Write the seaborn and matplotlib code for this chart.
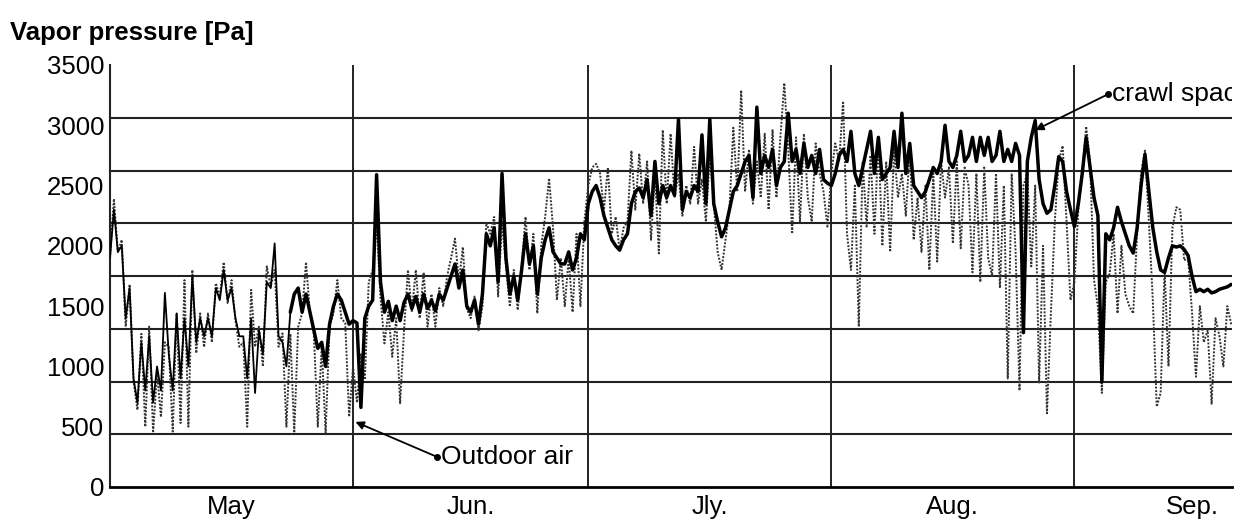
import numpy as np
import pandas as pd
import matplotlib
matplotlib.use("Agg")
import matplotlib.pyplot as plt
from matplotlib.ticker import FixedLocator, MultipleLocator
import seaborn as sns

# Half-day readings from 1 May (day 0) to about 20 Sep (day 143), vapor pressure in Pa
outdoor_air = [
    # May
    1900, 2390, 1950, 2050, 1330, 1680, 880, 640, 1270, 500,
    1330, 450, 950, 580, 1200, 1160, 460, 1440, 530, 1716,
    500, 1800, 1110, 1440, 1160, 1440, 1200, 1690, 1578, 1865,
    1525, 1716, 1380, 1163, 1200, 500, 1635, 1163, 1329, 1000,
    1830, 1660, 1800, 1163, 1274, 500, 1270, 450, 1329, 1440,
    1865, 1440, 1270, 500, 1163, 450, 1329, 1440,
    # late May - June
    1716, 1400, 1360, 583, 1000, 700, 1100, 890, 1700, 1800,
    2190, 1570, 1191, 1450, 1080, 1400, 694, 1300, 1800, 1450,
    1800, 1400, 1780, 1330, 1600, 1330, 1650, 1500, 1750, 1900,
    2060, 1700, 1990, 1480, 1400, 1580, 1300, 1500, 2190, 2100,
    2240, 1580, 2200, 1826, 1495, 1800, 1467, 1830, 2240, 1800,
    2100, 1440, 2000, 2240, 2560, 2150,
    # late June - July
    1550, 1900, 1500, 1900, 1450, 2100, 1500, 2200, 2500, 2650,
    2680, 2600, 2300, 2650, 2100, 2241, 1960, 2150, 2200, 2790,
    2300, 2766, 2350, 2700, 2050, 2600, 1937, 2960, 2350, 2930,
    2400, 2600, 2250, 2500, 2350, 2821, 2350, 2550, 2200, 2750,
    2350, 1950, 1800, 2050, 2300, 2980, 2450, 3290, 2450, 2800,
    2350, 2700, 2400, 2930, 2300, 2960, 2400, 2900, 3350,
    # late July - August
    2800, 2100, 2900, 2200, 2930, 2400, 2200, 2850, 2600, 2450,
    2160, 2600, 2850, 2700, 3200, 2100, 1800, 2500, 1330, 2700,
    2160, 2750, 2100, 2900, 2000, 2700, 1950, 2800, 2400, 2600,
    2250, 2800, 2050, 2400, 1950, 2500, 1800, 2600, 1870, 2700,
    2400, 2650, 2020, 2700, 1980, 2650, 2500, 1780, 2600, 1700,
    2650, 1900, 1750, 2600, 1650, 2500,
    # late August - September
    900, 2600, 1950, 800, 2500, 2600, 1830, 2500, 860, 2000,
    611, 1440, 2200, 2700, 2830, 2200, 1550, 1700, 2300, 2600,
    2990, 2700, 1716, 1495, 780, 1700, 1770, 2100, 1440, 2000,
    1600, 1500, 1440, 2100, 2600, 2790, 2200, 1550, 666, 780,
    1800, 1000, 2150, 2320, 2300, 1880, 1900, 1450, 915, 1500,
    1200, 1300, 690, 1400, 1250, 1000, 1500, 1350,
]

crawl_space = [
    # May
    1900, 2300, 1950, 2000, 1400, 1650, 900, 700, 1200, 800,
    1250, 700, 1000, 800, 1610, 1100, 800, 1440, 900, 1400,
    1000, 1750, 1200, 1400, 1250, 1400, 1250, 1650, 1550, 1800,
    1550, 1650, 1400, 1250, 1250, 900, 1400, 780, 1300, 1100,
    1700, 1650, 2020, 1250, 1200, 1000, 1450, 1600, 1650, 1450,
    1600, 1450, 1300, 1150, 1200, 1000, 1350, 1500,
    # late May - June
    1600, 1550, 1450, 1350, 1380, 1360, 660, 1400, 1500, 1550,
    2590, 1700, 1450, 1540, 1380, 1500, 1380, 1530, 1600, 1480,
    1580, 1450, 1600, 1480, 1550, 1460, 1600, 1550, 1650, 1750,
    1850, 1650, 1800, 1500, 1450, 1550, 1350, 1600, 2100, 2000,
    2150, 1700, 2600, 1900, 1600, 1750, 1550, 1800, 2100, 1850,
    2000, 1600, 1900, 2050, 2150, 1950,
    # late June - July
    1900, 1850, 1850, 1950, 1800, 1900, 2100, 2050, 2350, 2450,
    2500, 2400, 2250, 2150, 2050, 2000, 1965, 2050, 2100, 2350,
    2450, 2480, 2400, 2550, 2250, 2700, 2350, 2500, 2400, 2500,
    2420, 3050, 2300, 2450, 2400, 2500, 2450, 2920, 2350, 3050,
    2350, 2200, 2075, 2150, 2300, 2450, 2500, 2600, 2700, 2750,
    2400, 3150, 2600, 2750, 2650, 2800, 2500, 2650, 2700,
    # late July - August
    3100, 2700, 2800, 2600, 2850, 2650, 2750, 2600, 2800, 2550,
    2520, 2500, 2600, 2750, 2800, 2700, 2950, 2600, 2500, 2650,
    2800, 2950, 2600, 2900, 2550, 2600, 2650, 2950, 2650, 3100,
    2600, 2850, 2500, 2450, 2400, 2450, 2550, 2650, 2600, 2700,
    3000, 2700, 2650, 2750, 2950, 2700, 2750, 2900, 2700, 2900,
    2750, 2900, 2700, 2750, 2950, 2700,
    # late August - September
    2800, 2700, 2850, 2750, 1280, 2700, 2900, 3040, 2550, 2350,
    2270, 2300, 2500, 2740, 2700, 2450, 2300, 2160, 2350, 2600,
    2900, 2650, 2400, 2250, 870, 2100, 2050, 2150, 2320, 2200,
    2100, 2000, 1940, 2150, 2500, 2760, 2450, 2150, 1950, 1800,
    1780, 1900, 2000, 1990, 2000, 1970, 1920, 1750, 1620, 1640,
    1620, 1640, 1610, 1620, 1640, 1650, 1660, 1680,
]

month_names = ["May", "Jun.", "Jly.", "Aug.", "Sep."]
month_starts = [0, 31, 61, 92, 123]
month_lengths = [31, 30, 31, 31, 30]
y_tick_values = [0, 500, 1000, 1500, 2000, 2500, 3000, 3500]

days = np.arange(len(outdoor_air)) * 0.5
df = pd.DataFrame({"day": days, "outdoor": outdoor_air, "crawl": crawl_space})

sns.set_style("white")
plt.rcParams["font.family"] = ["Liberation Sans", "DejaVu Sans"]
plt.rcParams["text.color"] = "black"

fig = plt.figure(figsize=(12.46, 5.24), dpi=100)
ax = fig.add_axes([110 / 1246, 37 / 524, 1122 / 1246, 422 / 524])

sns.lineplot(data=df, x="day", y="outdoor", ax=ax, color="#333333",
             linewidth=1.4, linestyle=(0, (1, 0.8)), zorder=3)
# the crawl-space trace is drawn thin while it swings widely in early May,
# then as the heavy line
early = df[df["day"] <= 23]
later = df[df["day"] >= 23]
sns.lineplot(data=early, x="day", y="crawl", ax=ax, color="black",
             linewidth=1.3, zorder=4)
sns.lineplot(data=later, x="day", y="crawl", ax=ax, color="black",
             linewidth=2.5, zorder=4)

ax.set_xlim(0, 143.1)
ax.set_ylim(0, 3500)
ax.set_xlabel("")
ax.set_ylabel("")

# value labels on the y axis, rule lines at eighths of the range
ax.yaxis.set_major_locator(FixedLocator(y_tick_values))
ax.yaxis.set_minor_locator(MultipleLocator(3500 / 8))
ax.grid(which="minor", axis="y", color="#222222", linewidth=1.5)

# month names centred in each month, month boundaries as vertical rules
centres = [s + n / 2 for s, n in zip(month_starts, month_lengths)]
ax.xaxis.set_major_locator(FixedLocator(centres))
ax.set_xticklabels(month_names)
ax.xaxis.set_minor_locator(FixedLocator(month_starts[1:]))
ax.grid(which="minor", axis="x", color="#222222", linewidth=1.4)
ax.grid(which="major", visible=False)

ax.tick_params(axis="both", which="both", length=0, labelsize=18.5,
               colors="black", labelcolor="black")
ax.tick_params(axis="y", pad=4)
ax.tick_params(axis="x", pad=6)

for side in ("top", "right"):
    ax.spines[side].set_visible(False)
ax.spines["left"].set_color("#222222")
ax.spines["left"].set_linewidth(1.5)
ax.spines["bottom"].set_color("black")
ax.spines["bottom"].set_linewidth(2.0)

# series callouts
arrow = dict(arrowstyle="-|>", color="black", lw=1.3, mutation_scale=12,
             shrinkA=0, shrinkB=0)
ax.annotate("", xy=(31.3, 540), xytext=(41.7, 250), arrowprops=arrow, zorder=6)
ax.plot([41.7], [250], "o", color="black", markersize=4, zorder=6)
ax.text(42.2, 250, "Outdoor air", fontsize=19, va="center", ha="left",
        color="black", zorder=6)

ax.annotate("", xy=(118.0, 2960), xytext=(127.3, 3258), arrowprops=arrow, zorder=6)
ax.plot([127.3], [3258], "o", color="black", markersize=4, zorder=6)
ax.text(127.8, 3258, "crawl space", fontsize=19, va="center", ha="left",
        color="black", zorder=6, clip_on=True)

fig.text(10 / 1246, 1 - 33 / 524, "Vapor pressure [Pa]", fontsize=18.5,
         fontweight="bold", va="center", ha="left", color="black")

fig.savefig("out.png", dpi=100, facecolor="white")
